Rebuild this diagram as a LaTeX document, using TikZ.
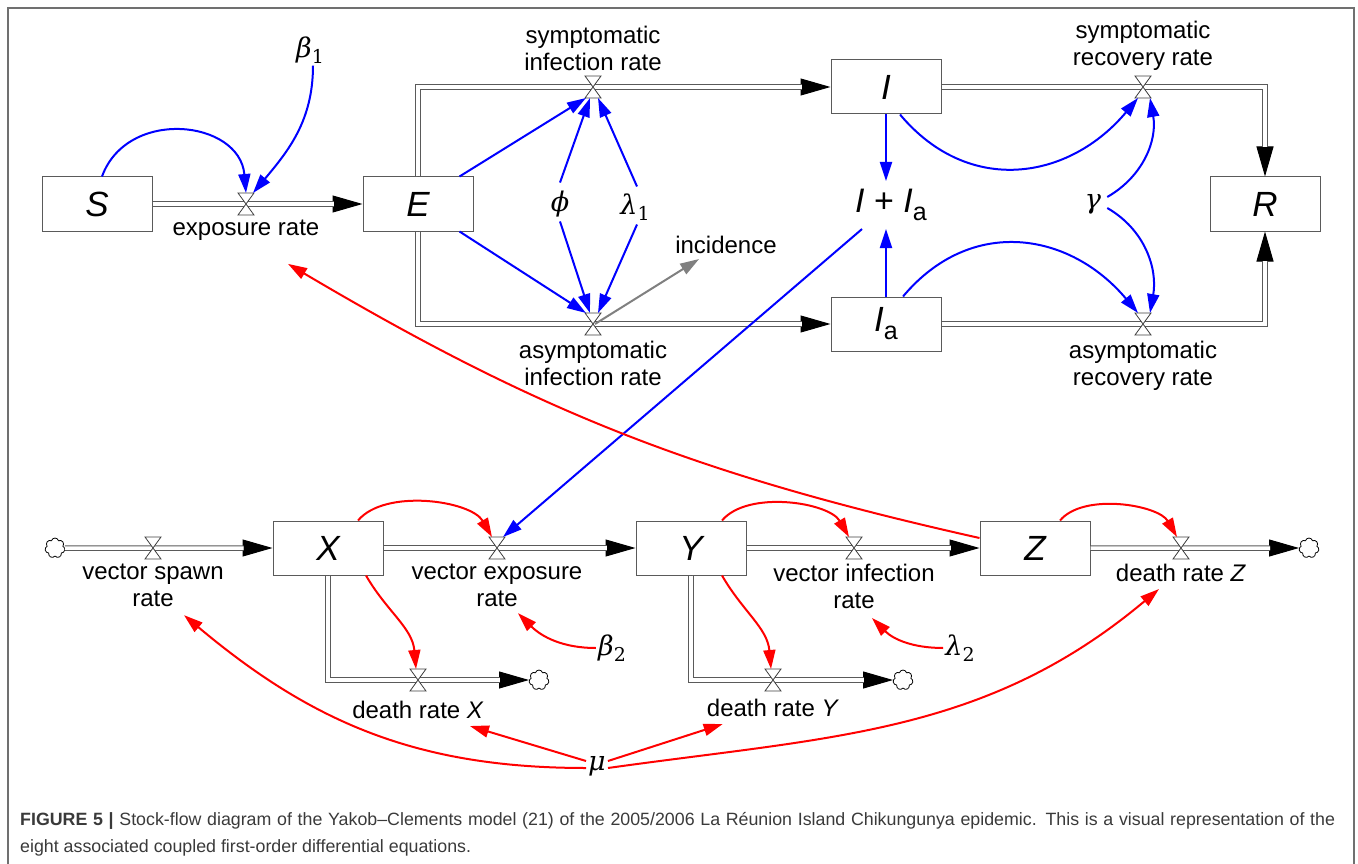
\documentclass[tikz,border=0pt]{standalone}
\usepackage{fontspec}
\setmainfont{Liberation Sans}
\newfontfamily\greekfont{DejaVu Serif}
\usepackage{tikz}
\usetikzlibrary{arrows.meta, positioning, calc, shapes.symbols}

\definecolor{pipegray}{HTML}{5A5A5A}
\definecolor{framegray}{HTML}{707070}
\definecolor{linkblue}{HTML}{0000FF}
\definecolor{linkred}{HTML}{FF0000}
\definecolor{incgray}{HTML}{808080}
\definecolor{captext}{HTML}{3A3A3A}

% Greek parameter with optional subscript
\newcommand{\parm}[2]{{\greekfont\itshape #1}\raisebox{-6pt}{\fontsize{19}{19}\selectfont\greekfont #2}}

\begin{document}
\begin{tikzpicture}[
  x=1pt, y=1pt,
  stock/.style = {draw=pipegray, line width=1pt, minimum width=110pt, minimum height=54pt, inner sep=0pt, font=\fontsize{35}{35}\selectfont\itshape},
  valve/.style = {minimum width=16pt, minimum height=22pt, inner sep=0pt, outer sep=0pt},
  hourglass/.style = {draw=darkgray, fill=white, line width=0.8pt},
  sink/.style = {cloud, cloud puffs=7, draw=black, line width=0.8pt, minimum width=20pt, minimum height=20pt, inner sep=0pt},
  pipe/.style = {draw=pipegray, line width=1pt, double=white, double distance=3.5pt, shorten >=29pt},
  flow/.style = {draw=black, line width=1pt, -{Triangle[length=30pt, width=17pt]}},
  link/.style = {draw=linkblue, line width=2pt, -{Triangle[length=19pt, width=12pt]}},
  vlink/.style = {link, draw=linkred},
  rate/.style = {font=\fontsize{24}{27}\selectfont, align=center, inner sep=0pt},
  param/.style = {font=\fontsize{27}{30}\selectfont, inner sep=2pt},
  caption/.style = {font=\fontsize{17.8}{20}\selectfont, text=captext, anchor=base west, inner sep=0pt}
]
  \useasboundingbox (0,0) rectangle (1358,-864);
  \draw[framegray, line width=1.3pt] (8,-864) -- (8,-8) -- (1354,-8) -- (1354,-864);

  % Human stocks
  \node[stock] (S) at (97,-204) {S};
  \node[stock] (E) at (418,-204) {E};
  \node[stock] (I) at (886,-87) {I};
  \node[stock] (Ia) at (886,-324) {I\raisebox{-8pt}{\fontsize{25}{25}\selectfont\upshape a}};
  \node[stock] (R) at (1265,-204) {R};

  % Vector stocks
  \node[stock] (X) at (328,-548) {X};
  \node[stock] (Y) at (691,-548) {Y};
  \node[stock] (Z) at (1035,-548) {Z};

  % Sources and sinks
  \node[sink] (spawnsrc) at (55,-548) {};
  \node[sink] (sinkx) at (539,-680) {};
  \node[sink] (sinky) at (903,-680) {};
  \node[sink] (sinkz) at (1309,-548) {};

  % Valves
  \node[valve] (expv) at (246,-204) {};
  \node[valve] (syminfv) at (593,-87) {};
  \node[valve] (asyminfv) at (593,-324) {};
  \node[valve] (symrecv) at (1143,-87) {};
  \node[valve] (asymrecv) at (1143,-324) {};
  \node[valve] (spawnv) at (153,-548) {};
  \node[valve] (vexpv) at (497,-548) {};
  \node[valve] (vinfv) at (854,-548) {};
  \node[valve] (deathzv) at (1181,-548) {};
  \node[valve] (deathxv) at (418,-680) {};
  \node[valve] (deathyv) at (773,-680) {};

  % Flows (pipes)
  \foreach \a/\b in {S/E, spawnsrc/X, X/Y, Y/Z, Z/sinkz} {
    \draw[flow] (\a) -- (\b);
    \draw[pipe] (\a) -- (\b);
  }
  \foreach \a/\b in {E/I, E/Ia, X/sinkx, Y/sinky} {
    \draw[flow] (\a) |- (\b);
    \draw[pipe] (\a) |- (\b);
  }
  \foreach \a/\b in {I/R, Ia/R} {
    \draw[flow] (\a) -| (\b);
    \draw[pipe] (\a) -| (\b);
  }
  \foreach \v in {expv, syminfv, asyminfv, symrecv, asymrecv, spawnv, vexpv, vinfv, deathzv, deathxv, deathyv}
    \draw[hourglass] (\v.north west) -- (\v.north east) -- (\v.south west) -- (\v.south east) -- cycle;

  % Rate labels
  \node[rate, below=5pt of expv] (exprate) {exposure rate};
  \node[rate, above=5pt of syminfv] (syminfrate) {symptomatic\\infection rate};
  \node[rate, below=6pt of asyminfv] (asyminfrate) {asymptomatic\\infection rate};
  \node[rate, above=5pt of symrecv] (symrecrate) {symptomatic\\recovery rate};
  \node[rate, below=6pt of asymrecv] (asymrecrate) {asymptomatic\\recovery rate};
  \node[rate] (incidence) at (726,-245) {incidence};
  \node[rate, below=5pt of spawnv] (spawnrate) {vector spawn\\rate};
  \node[rate, below=5pt of vexpv] (vexprate) {vector exposure\\rate};
  \node[rate, below=5pt of vinfv] (vinfrate) {vector infection\\rate};
  \node[rate, below=5pt of deathzv] (deathzrate) {death rate \textit{Z}};
  \node[rate, below=10pt of deathxv] (deathxrate) {death rate \textit{X}};
  \node[rate, below=8pt of deathyv] (deathyrate) {death rate \textit{Y}};

  % Parameters and auxiliaries
  \node[param] (beta1) at (310,-50) {\parm{β}{1}};
  \node[param] (phi) at (560,-204) {\parm{ϕ}{}};
  \node[param] (lambda1) at (635,-207) {\parm{λ}{1}};
  \node[param] (gamma) at (1093,-204) {\parm{γ}{}};
  \node[param] (beta2) at (612,-648) {\parm{β}{2}};
  \node[param] (lambda2) at (960,-648) {\parm{λ}{2}};
  \node[param] (mu) at (597,-766) {\parm{μ}{}};
  \node[font=\fontsize{34}{34}\selectfont, inner sep=8pt] (IIa) at (891,-205) {\textit{I} + \textit{I}\raisebox{-8pt}{\fontsize{25}{25}\selectfont a}};

  % Human links
  \draw[link] ([xshift=5pt]S.north) to[out=70, in=95, looseness=1.3] (expv.north);
  \draw[link] ([xshift=3pt]beta1.south) to[out=-90, in=50] ([xshift=7pt]expv.north);
  \draw[link] ([xshift=-14pt]E.north east) -- ([xshift=-7pt]syminfv.south);
  \draw[link] ([xshift=-14pt]E.south east) -- ([xshift=-7pt]asyminfv.north);
  \draw[link] ([yshift=6pt]phi.north) -- ([xshift=-3pt]syminfv.south);
  \draw[link] ([yshift=-2pt]phi.south) -- ([xshift=-3pt]asyminfv.north);
  \draw[link] ([shift={(2,5)}]lambda1.north) -- ([xshift=5pt]syminfv.south);
  \draw[link] ([shift={(2,-2)}]lambda1.south) -- ([xshift=5pt]asyminfv.north);
  \draw[link, draw=incgray] ([xshift=2pt]asyminfv.center) -- ($(incidence.south west)+(24,-5)$);
  \draw[link] (I.south) -- (I.south |- IIa.north);
  \draw[link] (Ia.north) -- (Ia.north |- IIa.south);
  \draw[link] ([xshift=14pt]I.south) to[out=-50, in=-130, looseness=1.15] ([xshift=-5pt]symrecv.south);
  \draw[link] ([xshift=17pt]Ia.north) to[out=50, in=130, looseness=1.15] ([xshift=-5pt]asymrecv.north);
  \draw[link] ([shift={(4,7)}]gamma.east) to[out=30, in=-80] ([xshift=7pt]symrecv.south);
  \draw[link] ([shift={(4,-4)}]gamma.east) to[out=-30, in=80] ([xshift=7pt]asymrecv.north);
  \draw[link] ([xshift=15pt]IIa.south west) -- ([xshift=6pt]vexpv.north);

  % Vector links
  \draw[vlink] ([yshift=10pt]Z.west) to[bend left=9] ($(exprate.south)+(42,-23)$);
  \draw[vlink] ([xshift=30pt]X.north) to[out=50, in=120, looseness=0.8] ([xshift=-5pt]vexpv.north);
  \draw[vlink] ([xshift=38pt]X.south) to[out=-60, in=95] ([xshift=-2pt]deathxv.north);
  \draw[vlink] ([xshift=31pt]Y.north) to[out=50, in=120, looseness=0.8] ([xshift=-5pt]vinfv.north);
  \draw[vlink] ([xshift=31pt]Y.south) to[out=-60, in=95] ([xshift=-2pt]deathyv.north);
  \draw[vlink] ([xshift=25pt]Z.north) to[out=50, in=120, looseness=0.8] ([xshift=-4pt]deathzv.north);
  \draw[vlink] (beta2.west) to[out=180, in=-45] ($(vexprate.south)+(21,-6)$);
  \draw[vlink] (lambda2.west) to[out=180, in=-45] ($(vinfrate.south)+(18,-9)$);
  \draw[vlink] ([yshift=-2pt]mu.west) to[out=180, in=-40] ($(spawnrate.south)+(31,-8)$);
  \draw[vlink] ([yshift=5pt]mu.west) -- ($(deathxrate.south east)+(-14,-7)$);
  \draw[vlink] ([yshift=5pt]mu.east) -- ($(deathyrate.south west)+(16,-7)$);
  \draw[vlink] ([yshift=-2pt]mu.east) to[out=8, in=-140] ($(deathzrate.south)+(-22,-7)$);

  % Caption
  \node[caption] (cap1) at (20,-825) {\makebox[1315pt][s]{\textbf{FIGURE 5 |} Stock-flow diagram of the Yakob–Clements model (21) of the 2005/2006 La Réunion Island Chikungunya epidemic. This is a visual representation of the}};
  \node[caption] (cap2) at (20,-852) {eight associated coupled first-order differential equations.};

\end{tikzpicture}
\end{document}
